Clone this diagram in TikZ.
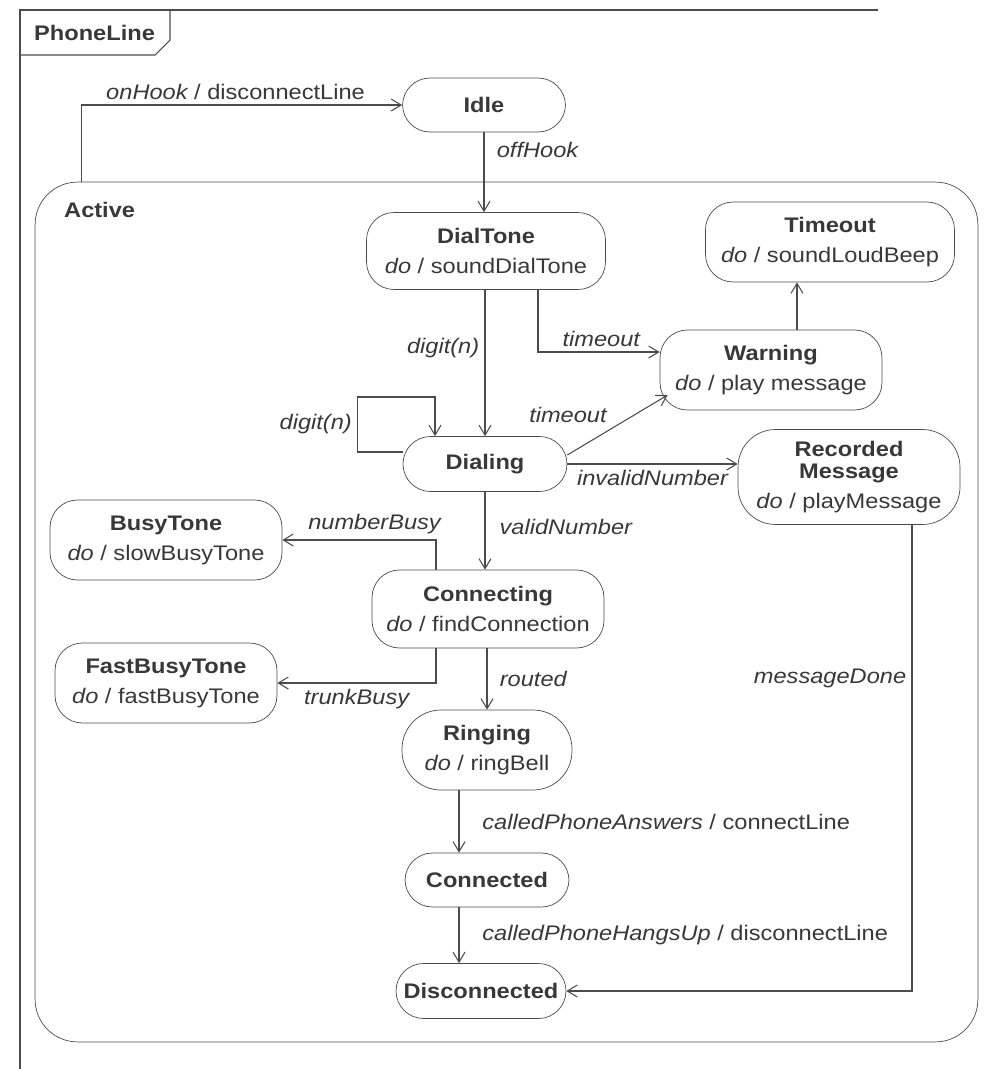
\documentclass[tikz,border=0pt]{standalone}
\usepackage{fontspec}
\setmainfont[FakeStretch=1.12]{Liberation Sans}
\usetikzlibrary{arrows.meta}

\begin{document}
\begin{tikzpicture}[
  x=0.02cm, y=-0.02cm,
  font=\fontsize{12}{17}\selectfont,
  every node/.style={text=black!78},
  state/.style={draw=black!70, rounded corners=0.55cm, align=center, inner sep=0pt},
  trans/.style={-{Straight Barb[length=2mm,width=2.4mm]}, draw=black!70, semithick},
  lbl/.style={font=\fontsize{12}{14}\selectfont\itshape, inner sep=3pt}
]
\useasboundingbox (0,0) rectangle (985,1069);

\draw[black!70, semithick] (20,1069) -- (20,10) -- (878,10);
\draw[black!70, semithick] (20,55) -- (155,55) -- (170,40) -- (170,10);
\node[anchor=west, font=\fontsize{12}{14}\selectfont\bfseries] (frame) at (28,33) {PhoneLine};

\node[state, rounded corners=0.85cm, minimum width=18.86cm, minimum height=17.2cm] (active) at (506.5,612) {};
\node[anchor=west, font=\fontsize{12}{14}\selectfont\bfseries] (activelbl) at (58,210) {Active};

\node[state, minimum width=3.26cm, minimum height=1.08cm] (idle) at (484,105) {\textbf{Idle}};
\node[state, minimum width=4.78cm, minimum height=1.54cm] (dialtone) at (486,251) {\textbf{DialTone}\\\textit{do} / soundDialTone};
\node[state, minimum width=4.98cm, minimum height=1.6cm] (timeout) at (830,242) {\textbf{Timeout}\\\textit{do} / soundLoudBeep};
\node[state, minimum width=4.44cm, minimum height=1.6cm] (warning) at (771,370) {\textbf{Warning}\\\textit{do} / play message};
\node[state, minimum width=3.28cm, minimum height=1.1cm] (dialing) at (485,464) {\textbf{Dialing}};
\node[state, rounded corners=0.75cm, minimum width=4.44cm, minimum height=1.9cm] (recorded) at (849,477) {\textbf{Recorded}\\[-4pt]\textbf{Message}\\\textit{do} / playMessage};
\node[state, minimum width=4.64cm, minimum height=1.6cm] (busytone) at (166,540) {\textbf{BusyTone}\\\textit{do} / slowBusyTone};
\node[state, minimum width=4.64cm, minimum height=1.56cm] (connecting) at (488,609) {\textbf{Connecting}\\\textit{do} / findConnection};
\node[state, minimum width=4.44cm, minimum height=1.6cm] (fastbusy) at (166,683) {\textbf{FastBusyTone}\\\textit{do} / fastBusyTone};
\node[state, rounded corners=0.78cm, minimum width=3.4cm, minimum height=1.6cm] (ringing) at (487,750) {\textbf{Ringing}\\\textit{do} / ringBell};
\node[state, minimum width=3.28cm, minimum height=1.08cm] (connected) at (487,880) {\textbf{Connected}};
\node[state, minimum width=3.4cm, minimum height=1.1cm] (disconnected) at (481,991) {\textbf{Disconnected}};

\draw[trans] ([xshift=0.94cm]active.north west) |- node[lbl, above, pos=0.74]{onHook \upshape/ disconnectLine} (idle);
\draw[trans] (idle.south) -- node[lbl, right, xshift=4pt, pos=0.22]{offHook} (idle.south |- dialtone.north);
\draw[trans] ([xshift=0.52cm]warning.north) -- ([xshift=0.52cm]warning.north |- timeout.south);
\draw[trans] ([xshift=1.04cm]dialtone.south) |- node[lbl, above, pos=0.76]{timeout} ([yshift=0.36cm]warning.west);
\draw[trans] (dialing.north |- dialtone.south) -- node[lbl, left, pos=0.4]{digit(n)} (dialing.north);
\draw[trans] ([yshift=0.24cm]dialing.west) -- ++(-45,0) -- node[lbl, left]{digit(n)} ++(0,-55) -| ([xshift=-1cm]dialing.north);
\draw[trans] ([yshift=0.18cm]dialing.east) -- node[lbl, above left, pos=0.45]{timeout} ([xshift=0.16cm,yshift=-0.5cm]warning.west);
\draw[trans] (dialing.east) -- node[lbl, below]{invalidNumber} (dialing.east -| recorded.west);
\draw[trans] ([xshift=1.26cm]recorded.south) |- node[lbl, left, pos=0.165]{messageDone} (disconnected);
\draw[trans] (dialing.south) -- node[lbl, right, xshift=5pt, pos=0.45]{validNumber} (dialing.south |- connecting.north);
\draw[trans] ([xshift=-1.04cm]connecting.north) |- node[lbl, above, pos=0.7]{numberBusy} (busytone);
\draw[trans] ([xshift=-1.04cm]connecting.south) |- node[lbl, below, pos=0.75]{trunkBusy} (fastbusy);
\draw[trans] (ringing.north |- connecting.south) -- node[lbl, right, xshift=4pt]{routed} (ringing.north);
\draw[trans] ([xshift=-0.56cm]ringing.south) -- node[lbl, right, xshift=10pt]{calledPhoneAnswers \upshape/ connectLine} ([xshift=-0.56cm]connected.north);
\draw[trans] ([xshift=-0.56cm]connected.south) -- node[lbl, right, xshift=10pt]{calledPhoneHangsUp \upshape/ disconnectLine} ([xshift=-0.56cm]connected.south |- disconnected.north);
\end{tikzpicture}
\end{document}
